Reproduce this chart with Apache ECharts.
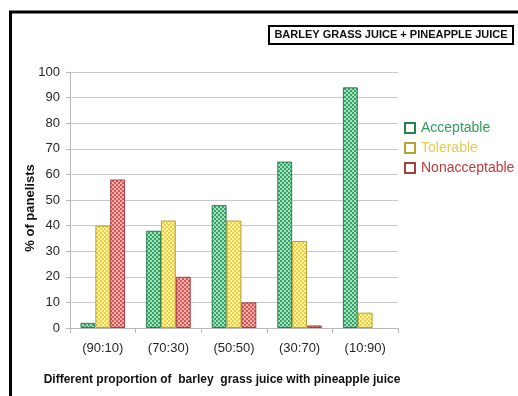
<!DOCTYPE html>
<html>
<head>
<meta charset="utf-8">
<script src="https://cdn.jsdelivr.net/npm/echarts@6/dist/echarts.min.js"></script>
<style>
  html, body { margin: 0; padding: 0; background: #fff; }
  #chart { width: 518px; height: 396px; }
</style>
</head>
<body>
<div id="chart"></div>
<script>
// Sensory acceptance of barley grass / pineapple juice blends
const categories = ['(90:10)', '(70:30)', '(50:50)', '(30:70)', '(10:90)'];
const acceptable = [2, 38, 48, 65, 94];
const tolerable = [40, 42, 42, 34, 6];
const nonacceptable = [58, 20, 10, 1, 0];
const yTicks = { min: 0, max: 100, interval: 10 };

const FONT = '"Liberation Sans", Arial, sans-serif';

// Small checkerboard fill, like a printed hatch pattern
function checker(dark, light) {
  const c = document.createElement('canvas');
  c.width = 4; c.height = 4;
  const g = c.getContext('2d');
  g.fillStyle = light; g.fillRect(0, 0, 4, 4);
  g.fillStyle = dark;
  g.fillRect(0, 0, 2, 2);
  g.fillRect(2, 2, 2, 2);
  return { image: c, repeat: 'repeat' };
}

const styles = {
  Acceptable: { fill: checker('#34a566', '#a6dfbb'), border: '#2a7f4f', text: '#2f9e5e' },
  Tolerable: { fill: checker('#ead24a', '#fbf09c'), border: '#b9a232', text: '#e3cc4f' },
  Nonacceptable: { fill: checker('#d85656', '#f3b3ae'), border: '#a23f3f', text: '#c0393b' }
};

function barSeries(name, values) {
  const s = styles[name];
  return {
    name: name,
    type: 'bar',
    // a zero value has no visible bar, so it gets no outline either
    data: values.map(function (v) {
      return v === 0 ? { value: v, itemStyle: { borderWidth: 0 } } : v;
    }),
    barGap: '0%',
    barCategoryGap: '32%',
    itemStyle: { color: s.fill, borderColor: s.border, borderWidth: 1 }
  };
}

const chart = echarts.init(document.getElementById('chart'), null, { renderer: 'canvas' });

chart.setOption({
  animation: false,
  backgroundColor: '#fff',
  grid: { left: 70, right: 120, top: 72, bottom: 68 },
  legend: {
    orient: 'vertical',
    left: 399,
    top: 116,
    itemWidth: 10,
    itemHeight: 10,
    itemGap: 6,
    icon: 'rect',
    selectedMode: false,
    data: Object.keys(styles).map(function (n) {
      return {
        name: n,
        itemStyle: { color: '#fff', borderColor: styles[n].border, borderWidth: 2 },
        textStyle: { color: styles[n].text }
      };
    }),
    textStyle: { fontFamily: FONT, fontSize: 14, padding: [0, 0, 0, 1] }
  },
  xAxis: {
    type: 'category',
    data: categories,
    axisLine: { lineStyle: { color: '#b8b8b8' } },
    axisTick: { show: true, length: 5, lineStyle: { color: '#b8b8b8' } },
    axisLabel: { color: '#262626', fontFamily: FONT, fontSize: 13, margin: 14 }
  },
  yAxis: {
    type: 'value',
    min: yTicks.min,
    max: yTicks.max,
    interval: yTicks.interval,
    axisLine: { show: true, lineStyle: { color: '#b8b8b8' } },
    axisTick: { show: true, length: 4, lineStyle: { color: '#b8b8b8' } },
    splitLine: { lineStyle: { color: '#c8c8c8' } },
    axisLabel: { color: '#262626', fontFamily: FONT, fontSize: 13, margin: 10 }
  },
  series: [
    barSeries('Acceptable', acceptable),
    barSeries('Tolerable', tolerable),
    barSeries('Nonacceptable', nonacceptable)
  ],
  graphic: [
    {
      type: 'rect',
      shape: { x: 10.5, y: 12, width: 620, height: 500 },
      style: { fill: 'none', stroke: '#000', lineWidth: 3 },
      silent: true
    },
    {
      type: 'rect',
      shape: { x: 269, y: 26, width: 244, height: 18 },
      style: { fill: '#fff', stroke: '#000', lineWidth: 2 },
      silent: true
    },
    {
      type: 'text',
      x: 391, y: 35,
      style: {
        text: 'BARLEY GRASS JUICE + PINEAPPLE JUICE',
        font: 'bold 11px ' + FONT,
        fill: '#111',
        align: 'center',
        verticalAlign: 'middle'
      }
    },
    {
      type: 'text',
      x: 30, y: 208,
      rotation: Math.PI / 2,
      style: {
        text: '% of panelists',
        font: 'bold 13px ' + FONT,
        fill: '#111',
        align: 'center',
        verticalAlign: 'middle'
      }
    },
    {
      type: 'text',
      x: 222, y: 380,
      style: {
        text: 'Different proportion of  barley  grass juice with pineapple juice',
        font: 'bold 12px ' + FONT,
        fill: '#111',
        align: 'center',
        verticalAlign: 'middle'
      }
    }
  ]
});
</script>
</body>
</html>
